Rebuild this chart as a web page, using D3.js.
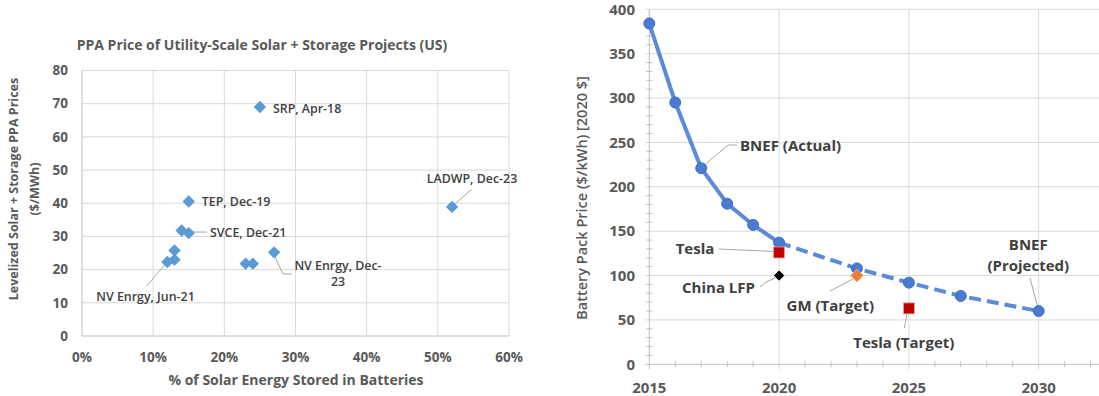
<!DOCTYPE html>
<html><head><meta charset="utf-8">
<script src="https://cdn.jsdelivr.net/npm/d3@7"></script>
<style>body{margin:0;background:#fff}svg{display:block;font-family:"Open Sans",sans-serif}</style>
</head><body><svg id="c" width="1099" height="396"></svg>
<script>
// ---------- Left chart data ----------
const ppaPct = [25, 15, 52, 14, 15, 13, 12, 13, 23, 24, 27];
const ppaPrice = [69, 40.5, 38.9, 31.8, 31, 25.8, 22.3, 23, 21.8, 21.8, 25.2];
const ppaXTicks = [0, 10, 20, 30, 40, 50, 60];
const ppaYTicks = [0, 10, 20, 30, 40, 50, 60, 70, 80];
// ---------- Right chart data ----------
const actualYears = [2015, 2016, 2017, 2018, 2019, 2020];
const actualPrice = [384, 295, 221, 181, 157, 137];
const projYears = [2020, 2023, 2025, 2027, 2030];
const projPrice = [137, 108, 92, 77, 60];
const teslaPt = [2020, 126];
const chinaPt = [2020, 100];
const gmPt = [2023, 100];
const teslaTargetPt = [2025, 63];
const batXTicks = [2015, 2020, 2025, 2030];
const batYTicks = [0, 50, 100, 150, 200, 250, 300, 350, 400];

const svg = d3.select("#c");
const grid = "#d9d9d9", axisC = "#bfbfbf", tickC = "#595959", labC = "#404040";

// ================= LEFT =================
const xL = d3.scaleLinear().domain([0, 60]).range([82, 509]);
const yL = d3.scaleLinear().domain([0, 80]).range([336, 70.5]);
const gL = svg.append("g");
gL.append("text").attr("x", 262).attr("y", 45).attr("dy", "0.35em").attr("text-anchor", "middle")
  .attr("font-size", 14).attr("font-weight", 700).attr("fill", tickC)
  .text("PPA Price of Utility-Scale Solar + Storage Projects (US)");
// grid
gL.selectAll(".hg").data(ppaYTicks).join("line")
  .attr("x1", xL(0)).attr("x2", xL(60)).attr("y1", d => yL(d)).attr("y2", d => yL(d))
  .attr("stroke", d => d === 0 ? axisC : grid).attr("stroke-width", 1);
gL.selectAll(".vg").data(ppaXTicks).join("line")
  .attr("y1", yL(0)).attr("y2", yL(80)).attr("x1", d => xL(d)).attr("x2", d => xL(d))
  .attr("stroke", d => d === 0 ? axisC : grid).attr("stroke-width", 1);
// tick labels
gL.selectAll(".yt").data(ppaYTicks).join("text")
  .attr("x", 68).attr("y", d => yL(d)).attr("dy", "0.35em").attr("text-anchor", "end")
  .attr("font-size", 13.5).attr("font-weight", 700).attr("fill", tickC).text(d => d);
gL.selectAll(".xt").data(ppaXTicks).join("text")
  .attr("x", d => xL(d)).attr("y", 357).attr("dy", "0.35em").attr("text-anchor", "middle")
  .attr("font-size", 13.5).attr("font-weight", 700).attr("fill", tickC).text(d => d + "%");
// axis titles
gL.append("text").attr("x", 296).attr("y", 380).attr("dy", "0.35em").attr("text-anchor", "middle")
  .attr("font-size", 14).attr("font-weight", 700).attr("fill", tickC)
  .text("% of Solar Energy Stored in Batteries");
const yt = gL.append("text").attr("transform", "translate(0,189) rotate(-90)").attr("text-anchor", "middle")
  .attr("font-size", 12.5).attr("font-weight", 700).attr("fill", tickC);
yt.append("tspan").attr("x", 0).attr("y", 18).text("Levelized Solar + Storage PPA Prices");
yt.append("tspan").attr("x", 0).attr("y", 39).text("($/MWh)");
// leader lines (left)
const leadL = [
  [[xL(52) + 3, yL(38.9) - 3], [471.7, 189.3]],
  [[193, 232], [207, 232]],
  [[xL(27), yL(25.2) + 3], [283, 274], [291.7, 274]],
  [[146.7, 286], [xL(12) - 1, yL(22.3) + 1]]
];
leadL.forEach(p => gL.append("path").attr("d", d3.line()(p)).attr("fill", "none").attr("stroke", "#a6a6a6").attr("stroke-width", 1));
// diamonds
gL.selectAll(".pt").data(ppaPct.map((d, i) => [d, ppaPrice[i]])).join("rect")
  .attr("x", -4.4).attr("y", -4.4).attr("width", 8.8).attr("height", 8.8)
  .attr("transform", d => `translate(${xL(d[0])},${yL(d[1])}) rotate(45)`)
  .attr("fill", "#5b9bd5");
// labels
const labL = [
  {t: "SRP, Apr-18", x: xL(25) + 13, y: yL(69) + 1.5, a: "start"},
  {t: "TEP, Dec-19", x: xL(15) + 13, y: yL(40.5) + 0.5, a: "start"},
  {t: "LADWP, Dec-23", x: 472, y: 178.3, a: "middle"},
  {t: "SVCE, Dec-21", x: 210, y: 232.3, a: "start"},
  {t: "NV Enrgy, Dec-", x: 338, y: 266, a: "middle"},
  {t: "23", x: 338, y: 281.7, a: "middle"},
  {t: "NV Enrgy, Jun-21", x: 145.5, y: 296.7, a: "middle"}
];
gL.selectAll(".lab").data(labL).join("text")
  .attr("x", d => d.x).attr("y", d => d.y).attr("dy", "0.35em").attr("text-anchor", d => d.a)
  .attr("font-size", 12.4).attr("font-weight", 600).attr("fill", labC).text(d => d.t);

// ================= RIGHT =================
const xR = d3.scaleLinear().domain([2015, 2035]).range([649.3, 1168.5]);
const yR = d3.scaleLinear().domain([0, 400]).range([364.3, 9.3]);
const gR = svg.append("g");
gR.selectAll(".hg").data(batYTicks.filter(d => d > 0)).join("line")
  .attr("x1", xR(2015) - 4).attr("x2", 1099).attr("y1", d => yR(d)).attr("y2", d => yR(d))
  .attr("stroke", grid);
gR.selectAll(".vg").data(batXTicks.filter(d => d > 2015)).join("line")
  .attr("y1", yR(0) + 5).attr("y2", yR(400)).attr("x1", d => xR(d)).attr("x2", d => xR(d))
  .attr("stroke", grid);
// axes lines
gR.append("line").attr("x1", xR(2015)).attr("x2", 1099).attr("y1", yR(0)).attr("y2", yR(0)).attr("stroke", axisC);
gR.append("line").attr("x1", xR(2015)).attr("x2", xR(2015)).attr("y1", yR(0) + 5).attr("y2", yR(400)).attr("stroke", axisC);
gR.append("line").attr("x1", xR(2015) - 4).attr("x2", xR(2015)).attr("y1", yR(0)).attr("y2", yR(0)).attr("stroke", axisC);
// minor ticks
gR.selectAll(".my").data(d3.range(10, 400, 10).filter(d => d % 50)).join("line")
  .attr("x1", xR(2015) - 3).attr("x2", xR(2015) + 3).attr("y1", d => yR(d)).attr("y2", d => yR(d)).attr("stroke", axisC);
gR.selectAll(".mx").data(d3.range(2016, 2035).filter(d => d % 5)).join("line")
  .attr("y1", yR(0) - 3).attr("y2", yR(0) + 3).attr("x1", d => xR(d)).attr("x2", d => xR(d)).attr("stroke", axisC);
// tick labels
gR.selectAll(".yt").data(batYTicks).join("text")
  .attr("x", 635).attr("y", d => yR(d)).attr("dy", "0.35em").attr("text-anchor", "end")
  .attr("font-size", 15).attr("font-weight", 700).attr("fill", tickC).text(d => d);
gR.selectAll(".xt").data(batXTicks).join("text")
  .attr("x", d => xR(d)).attr("y", 388).attr("dy", "0.35em").attr("text-anchor", "middle")
  .attr("font-size", 15).attr("font-weight", 700).attr("fill", tickC).text(d => d);
gR.append("text").attr("transform", "translate(582,198) rotate(-90)").attr("dy", "0.35em").attr("text-anchor", "middle")
  .attr("font-size", 14.5).attr("font-weight", 600).attr("fill", tickC).text("Battery Pack Price ($/kWh) [2020 $]");
// leader lines (right)
const leadR = [
  [[xR(2017) + 2, yR(221) - 2], [728, 145], [737, 145]],
  [[719, 249], [xR(2020) - 5, yR(126) - 1]],
  [[760, 287], [766, 282], [xR(2020) - 3, yR(100) + 2]],
  [[830, 291], [xR(2023) - 3, yR(100) + 3]],
  [[904.3, 328.3], [xR(2025) - 2, yR(63) + 6]],
  [[1030, 278], [xR(2030) - 1, yR(60) - 4]]
];
leadR.forEach(p => gR.append("path").attr("d", d3.line()(p)).attr("fill", "none").attr("stroke", "#a6a6a6").attr("stroke-width", 1));
// lines
const lineR = d3.line().x(d => xR(d[0])).y(d => yR(d[1]));
gR.append("path").attr("d", lineR(actualYears.map((d, i) => [d, actualPrice[i]])))
  .attr("fill", "none").attr("stroke", "#5b8ad8").attr("stroke-width", 4);
gR.append("path").attr("d", lineR(projYears.map((d, i) => [d, projPrice[i]])))
  .attr("fill", "none").attr("stroke", "#5b8ad8").attr("stroke-width", 4).attr("stroke-dasharray", "12,6");
const circ = actualYears.map((d, i) => [d, actualPrice[i]]).concat(projYears.slice(1).map((d, i) => [d, projPrice[i + 1]]));
gR.selectAll(".c").data(circ).join("circle")
  .attr("cx", d => xR(d[0])).attr("cy", d => yR(d[1])).attr("r", 5.5)
  .attr("fill", "#4a7bd0").attr("stroke", "#3f6fc4").attr("stroke-width", 1);
// other markers
gR.selectAll(".sq").data([teslaPt, teslaTargetPt]).join("rect")
  .attr("x", d => xR(d[0]) - 5.5).attr("y", d => yR(d[1]) - 5.5).attr("width", 11).attr("height", 11)
  .attr("fill", "#c00000").attr("stroke", "#e8a0a0").attr("stroke-width", 0.8);
gR.append("rect").attr("x", -4).attr("y", -4).attr("width", 8).attr("height", 8)
  .attr("transform", `translate(${xR(chinaPt[0])},${yR(chinaPt[1])}) rotate(45)`)
  .attr("fill", "#000").attr("stroke", "#fff").attr("stroke-width", 0.8);
gR.append("rect").attr("x", -4.5).attr("y", -4.5).attr("width", 9).attr("height", 9)
  .attr("transform", `translate(${xR(gmPt[0])},${yR(gmPt[1])}) rotate(45)`)
  .attr("fill", "#ed7d31").attr("stroke", "#f5b48a").attr("stroke-width", 0.8);
// labels
const labR = [
  {t: "BNEF (Actual)", x: 740, y: 146, a: "start"},
  {t: "Tesla", x: 714.3, y: 249, a: "end"},
  {t: "China LFP", x: 755, y: 287.3, a: "end"},
  {t: "GM (Target)", x: 830.3, y: 305.3, a: "middle"},
  {t: "Tesla (Target)", x: 903.8, y: 342.7, a: "middle"},
  {t: "BNEF", x: 1028.3, y: 245, a: "middle"},
  {t: "(Projected)", x: 1028.3, y: 265.7, a: "middle"}
];
gR.selectAll(".lab").data(labR).join("text")
  .attr("x", d => d.x).attr("y", d => d.y).attr("dy", "0.35em").attr("text-anchor", d => d.a)
  .attr("font-size", 15).attr("font-weight", 700).attr("fill", labC).text(d => d.t);
</script></body></html>
